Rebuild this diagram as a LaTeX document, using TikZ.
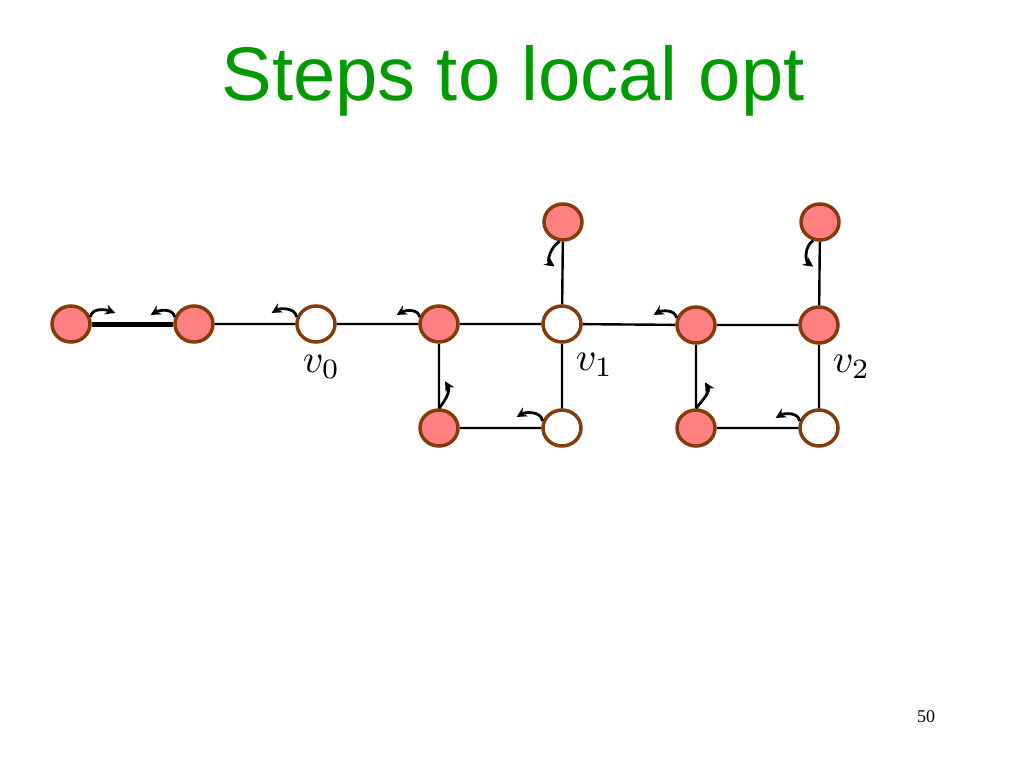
\documentclass[tikz,border=0pt]{standalone}
\usepackage{fontspec}
\newfontfamily\titlefont{Liberation Sans}
\newfontfamily\pagefont{Liberation Serif}
\usetikzlibrary{shapes.geometric,arrows.meta}
\definecolor{titlegreen}{RGB}{0,153,0}
\definecolor{nodepink}{RGB}{255,128,128}
\definecolor{nodebrown}{RGB}{132,60,12}
\tikzset{
  vtx/.style={ellipse, draw=nodebrown, line width=3.5pt, minimum width=38pt, minimum height=36pt, inner sep=0pt},
  pinkv/.style={vtx, fill=nodepink},
  whitev/.style={vtx, fill=white},
  link/.style={line width=2.4pt},
  move/.style={line width=2.8pt, -{Stealth[length=10pt,width=10pt]}},
  lbl/.style={scale=4, anchor=base west, inner sep=0pt}
}
\begin{document}
\begin{tikzpicture}[x=1pt, y=-1pt]
    \useasboundingbox (0,0) rectangle (1024,768);
    \node[text=titlegreen, anchor=base, inner sep=0pt] (title) at (513,100) {\titlefont\fontsize{76}{80}\selectfont Steps to local opt};
    % path on the left
    \node[pinkv] (x1) at (71,324) {};
    \node[pinkv] (x2) at (194,324) {};
    \node[whitev] (v0) at (316,324) {};
    % first square
    \node[pinkv] (y1) at (439,324) {};
    \node[pinkv] (y2) at (439,428) {};
    \node[whitev] (v1) at (562,324) {};
    \node[pinkv] (t1) at (563,222) {};
    \node[whitev] (w1) at (562,428) {};
    % second square
    \node[pinkv] (z1) at (696,325) {};
    \node[pinkv] (z2) at (696,428) {};
    \node[pinkv] (v2) at (819,325) {};
    \node[pinkv] (t2) at (820,222) {};
    \node[whitev] (w2) at (819,428) {};
    % edges
    \draw[link, line width=5pt] (x1) -- (x2);
    \draw[link] (x2) -- (v0) -- (y1) -- (v1) -- (z1) -- (v2);
    \draw[link] (y1) -- (y2) -- (w1) -- (v1) -- (t1);
    \draw[link] (z1) -- (z2) -- (w2) -- (v2) -- (t2);
    % steps
    \draw[move] (x1.20) to[out=80,in=160] ++(25,-4);
    \draw[move] (x2.160) to[out=100,in=30] ++(-24,-2);
    \draw[move] (v0.160) to[out=100,in=30] ++(-25,-4);
    \draw[move] (y1.160) to[out=100,in=30] ++(-23,-2);
    \draw[move] (w1.160) to[out=100,in=30] ++(-26,-4);
    \draw[move] (z1.160) to[out=100,in=30] ++(-23,-3);
    \draw[move] (w2.160) to[out=100,in=30] ++(-24,-3);
    \draw[move] (y2.north) to[out=50,in=-60] ++(6,-27);
    \draw[move] (z2.north) to[out=50,in=-60] ++(9,-26);
    \draw[move] (t1.260) to[out=210,in=145] ++(-5,25);
    \draw[move] (t2.250) to[out=210,in=145] ++(0,26);
    % labels
    \node[lbl] (lv0) at ([shift={(-14,48)}]v0.center) {$v_0$};
    \node[lbl] (lv1) at ([shift={(13,46)}]v1.center) {$v_1$};
    \node[lbl] (lv2) at ([shift={(13,47)}]v2.center) {$v_2$};
    \node[inner sep=0pt] (page) at (926,717) {\pagefont\fontsize{18}{20}\selectfont 50};
\end{tikzpicture}
\end{document}
